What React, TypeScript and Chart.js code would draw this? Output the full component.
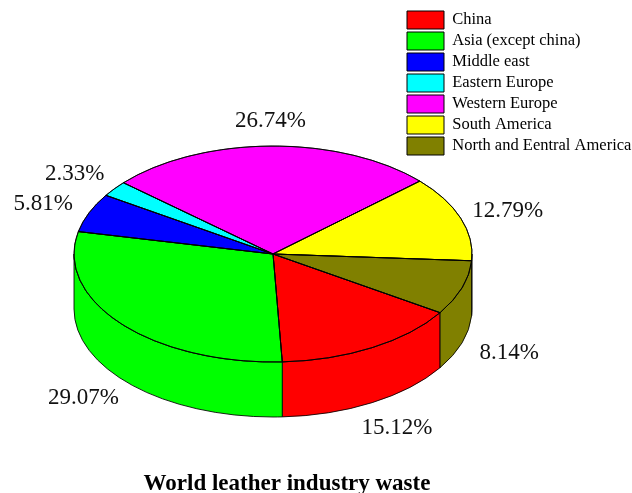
import { useEffect, useRef } from 'react';
import { Chart, registerables } from 'chart.js';

Chart.register(...registerables);

// Share of world leather industry waste by region (%)
const regions = [
  'China',
  'Asia (except china)',
  'Middle east',
  'Eastern Europe',
  'Western Europe',
  'South America',
  'North and Eentral America',
];
const shares = [15.12, 29.07, 5.81, 2.33, 26.74, 12.79, 8.14];
const sliceColors = ['#ff0000', '#00ff00', '#0000ff', '#00ffff', '#ff00ff', '#ffff00', '#808000'];
const chartTitle = 'World leather industry waste';

const SERIF = '"Liberation Serif", "Times New Roman", serif';

// Tilted disc: centre and radii of the top face, height of the side wall
const disc = { cx: 273, cy: 254, rx: 199, ry: 108, depth: 55 };
const LABEL_RADIUS = 1.25;
const LABEL_SIZE = 23;
const OUTLINE = 'rgba(0,0,0,0.85)';
const TWO_PI = Math.PI * 2;

// Parts of a slice's angular range that face the viewer (lower half of the ellipse)
function frontSpans(start: number, end: number): [number, number][] {
  const k = Math.floor(start / TWO_PI);
  const s = start - k * TWO_PI;
  const e = end - k * TWO_PI;
  const out: [number, number][] = [];
  for (const [lo, hi] of [[0, Math.PI], [TWO_PI, TWO_PI + Math.PI]]) {
    const a = Math.max(s, lo);
    const b = Math.min(e, hi);
    if (b > a) out.push([a, b]);
  }
  return out;
}

const pie3d = {
  id: 'pie3d',
  beforeDatasetsDraw(chart: any) {
    const ctx: CanvasRenderingContext2D = chart.ctx;
    const arcs = chart.getDatasetMeta(0).data;
    const { cx, cy, rx, ry, depth } = disc;

    // side walls
    ctx.save();
    ctx.lineWidth = 1;
    ctx.strokeStyle = OUTLINE;
    arcs.forEach((arc: any, i: number) => {
      const { startAngle, endAngle } = arc.getProps(['startAngle', 'endAngle'], true);
      for (const [a, b] of frontSpans(startAngle, endAngle)) {
        ctx.beginPath();
        ctx.ellipse(cx, cy, rx, ry, 0, a, b, false);
        ctx.lineTo(cx + rx * Math.cos(b), cy + depth + ry * Math.sin(b));
        ctx.ellipse(cx, cy + depth, rx, ry, 0, b, a, true);
        ctx.closePath();
        ctx.fillStyle = sliceColors[i];
        ctx.fill();
        ctx.stroke();
      }
    });
    ctx.restore();

    // squash the library's circular pie onto the top face
    const first = arcs[0];
    const R = first.outerRadius;
    ctx.save();
    ctx.translate(cx, cy);
    ctx.scale(rx / R, ry / R);
    ctx.translate(-first.x, -first.y);
  },
  afterDatasetsDraw(chart: any) {
    const ctx: CanvasRenderingContext2D = chart.ctx;
    ctx.restore();
    const arcs = chart.getDatasetMeta(0).data;
    const { cx, cy, rx, ry, depth } = disc;

    // crisp outlines of the top face
    ctx.save();
    ctx.lineWidth = 1;
    ctx.strokeStyle = OUTLINE;
    arcs.forEach((arc: any) => {
      const { startAngle, endAngle } = arc.getProps(['startAngle', 'endAngle'], true);
      ctx.beginPath();
      ctx.moveTo(cx, cy);
      ctx.lineTo(cx + rx * Math.cos(startAngle), cy + ry * Math.sin(startAngle));
      ctx.ellipse(cx, cy, rx, ry, 0, startAngle, endAngle, false);
      ctx.closePath();
      ctx.stroke();
    });

    // percentage labels around the disc
    ctx.fillStyle = '#111';
    ctx.font = `${LABEL_SIZE}px ${SERIF}`;
    ctx.textAlign = 'center';
    ctx.textBaseline = 'alphabetic';
    arcs.forEach((arc: any, i: number) => {
      const { startAngle, endAngle } = arc.getProps(['startAngle', 'endAngle'], true);
      const mid = (startAngle + endAngle) / 2;
      const s = Math.sin(mid);
      const x = cx + LABEL_RADIUS * rx * Math.cos(mid);
      const y = cy + LABEL_RADIUS * ry * s + (s > 0 ? depth : 0);
      ctx.fillText(`${shares[i].toFixed(2)}%`, x, y + LABEL_SIZE * 0.338);
    });
    ctx.restore();
  },
  afterDraw(chart: any) {
    const ctx: CanvasRenderingContext2D = chart.ctx;
    ctx.save();
    ctx.fillStyle = '#000';
    ctx.font = `bold 23px ${SERIF}`;
    ctx.textAlign = 'center';
    ctx.textBaseline = 'alphabetic';
    ctx.fillText(chartTitle, 287, 490);
    ctx.restore();
  },
};

export default function App() {
  const canvasRef = useRef<HTMLCanvasElement | null>(null);

  useEffect(() => {
    document.body.style.margin = '0';
    const canvas = canvasRef.current;
    if (!canvas) return;
    const chart = new Chart(canvas, {
      type: 'pie',
      data: {
        labels: regions,
        datasets: [
          {
            data: shares,
            backgroundColor: sliceColors,
            borderColor: '#000',
            borderWidth: 1,
          },
        ],
      },
      options: {
        responsive: false,
        animation: false,
        events: [],
        rotation: 122.9,
        layout: { padding: { top: 8, right: 0, bottom: 0, left: 0 } },
        plugins: {
          title: { display: false },
          tooltip: { enabled: false },
          legend: {
            position: 'right',
            align: 'start',
            maxWidth: 228,
            labels: {
              boxWidth: 37,
              boxHeight: 18,
              padding: 3,
              color: '#000',
              font: { family: SERIF, size: 16.5 },
            },
          },
        },
      },
      plugins: [pie3d],
    });
    return () => chart.destroy();
  }, []);

  return (
    <div style={{ width: 632, height: 493, background: '#fff' }}>
      <canvas ref={canvasRef} width={632} height={493} style={{ display: 'block' }} />
    </div>
  );
}
